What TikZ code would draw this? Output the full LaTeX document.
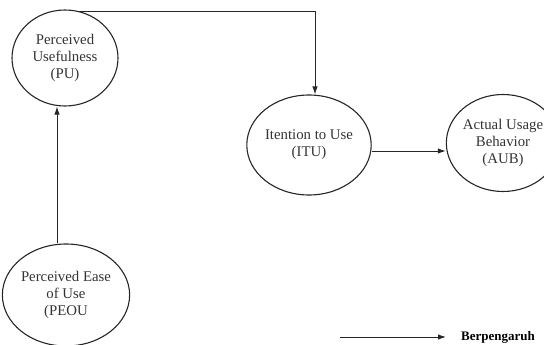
\documentclass[tikz,border=0pt]{standalone}
\usepackage{fontspec}
\setmainfont{Liberation Serif}
\usetikzlibrary{shapes.geometric,arrows.meta}
\begin{document}
\begin{tikzpicture}[x=1pt,y=-1pt,
  construct/.style={draw=black!85, line width=1.1pt, ellipse, inner sep=0pt,
    align=center, text=black!80, font=\fontsize{14.8}{16.8}\selectfont},
  arr/.style={draw=black!85, line width=1pt, -{Latex[length=8pt,width=5.5pt]}}]
\useasboundingbox (0,0) rectangle (544,345);
\clip (0,0) rectangle (544,345);
\node[construct, minimum width=106pt, minimum height=96pt] (PU) at (65,58) {Perceived\\Usefulness\\(PU)};
\node[construct, minimum width=106pt, minimum height=100pt] (ITU) at (309,145) {Itention to Use\\(ITU)};
\node[construct, minimum width=106pt, minimum height=97pt] (AUB) at (503,143) {Actual Usage\\Behavior\\(AUB)};
\node[construct, minimum width=108pt, minimum height=102pt] (PEOU) at (66,295) {Perceived Ease\\of Use\\(PEOU};
\coordinate (pustart) at (77,12);
\coordinate (itux) at (315,0);
\coordinate (peoux) at (57,0);
\coordinate (rowy) at (0,151);
\draw[arr] (pustart) -| (ITU.north -| itux);
\draw[arr] (PEOU.north -| peoux) -- (PU.south -| peoux);
\draw[arr] (ITU.east |- rowy) -- (AUB.west |- rowy);
\coordinate (legA) at (340,337);
\coordinate (legB) at (446,337);
\draw[arr] (legA) -- (legB);
\node[anchor=base west, inner sep=0pt, font=\fontsize{13}{15}\selectfont\bfseries] (leg) at (461,340) {Berpengaruh};
\end{tikzpicture}
\end{document}
